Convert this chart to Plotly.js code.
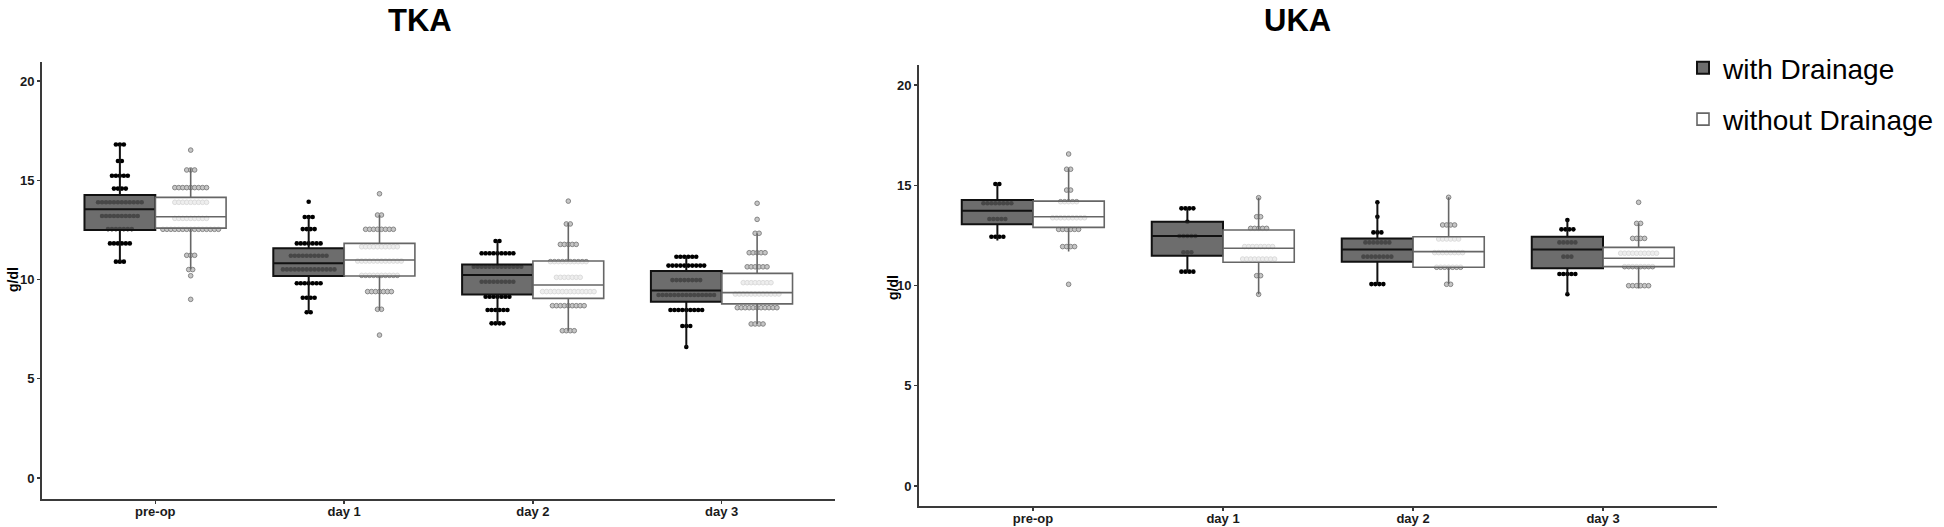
<!DOCTYPE html>
<html>
<head>
<meta charset="utf-8">
<script src="https://cdn.plot.ly/plotly-3.0.1.min.js"></script>
<style>html,body{margin:0;padding:0;background:#fff;}#chart{width:1944px;height:527px;}</style>
</head>
<body>
<div id="chart"></div>
<script>
// ---------- data ----------
const categories = ['pre-op', 'day 1', 'day 2', 'day 3'];
const yTicks = [0, 5, 10, 15, 20];

// TKA – with drainage (box statistics, g/dl)
const tkaWithQ1     = [12.49, 10.18, 9.25, 8.88];
const tkaWithMedian = [13.54, 10.82, 10.23, 9.44];
const tkaWithQ3     = [14.26, 11.57, 10.76, 10.43];
const tkaWithLow    = [10.9, 8.35, 7.79, 6.6];
const tkaWithHigh   = [16.8, 13.15, 11.94, 11.15];
// TKA – without drainage
const tkaWithoutQ1     = [12.59, 10.18, 9.05, 8.77];
const tkaWithoutMedian = [13.16, 10.98, 9.72, 9.34];
const tkaWithoutQ3     = [14.14, 11.82, 10.93, 10.31];
const tkaWithoutLow    = [10.5, 8.45, 7.42, 7.76];
const tkaWithoutHigh   = [15.6, 13.25, 12.85, 12.33];

// UKA – with drainage
const ukaWithQ1     = [13.05, 11.49, 11.19, 10.86];
const ukaWithMedian = [13.73, 12.47, 11.8, 11.8];
const ukaWithQ3     = [14.26, 13.18, 12.35, 12.43];
const ukaWithLow    = [12.25, 10.69, 10.07, 9.56];
const ukaWithHigh   = [15.06, 13.85, 14.15, 13.27];
// UKA – without drainage
const ukaWithoutQ1     = [12.9, 11.16, 10.91, 10.94];
const ukaWithoutMedian = [13.43, 11.86, 11.69, 11.36];
const ukaWithoutQ3     = [14.21, 12.77, 12.43, 11.9];
const ukaWithoutLow    = [11.7, 9.56, 10.06, 9.85];
const ukaWithoutHigh   = [15.85, 14.38, 14.4, 13.1];

// dot plot bins: values (g/dl) and number of patients per bin, per day
const tkaWithDotValues = [
  [16.8, 15.97, 15.23, 14.58, 13.89, 13.2, 12.54, 11.82, 10.9],
  [13.92, 13.15, 12.54, 11.82, 11.2, 10.51, 9.81, 9.08, 8.35],
  [11.94, 11.32, 10.64, 9.89, 9.13, 8.46, 7.79],
  [11.15, 10.7, 9.97, 9.22, 8.46, 7.66, 6.6]
];
const tkaWithDotCounts = [
  [3, 2, 5, 4, 12, 10, 7, 6, 3],
  [1, 3, 4, 7, 10, 14, 7, 4, 2],
  [2, 9, 13, 9, 7, 6, 4],
  [6, 10, 8, 15, 9, 3, 1]
];
const tkaWithoutDotValues = [
  [16.52, 15.52, 14.63, 13.89, 13.08, 12.53, 11.22, 10.5, 10.19, 9.0],
  [14.32, 13.25, 12.53, 11.65, 10.93, 10.21, 9.39, 8.5, 7.2],
  [13.95, 12.8, 11.77, 10.9, 10.11, 9.39, 8.68, 7.42],
  [13.84, 13.03, 12.33, 11.35, 10.64, 9.84, 9.27, 8.58, 7.76]
];
const tkaWithoutDotCounts = [
  [1, 3, 9, 9, 9, 15, 3, 2, 1, 1],
  [1, 2, 8, 10, 12, 10, 7, 2, 1],
  [1, 2, 5, 10, 7, 14, 9, 4],
  [1, 1, 2, 5, 6, 8, 12, 11, 4]
];
const ukaWithDotValues = [
  [15.06, 14.1, 13.32, 12.43],
  [13.85, 13.18, 12.47, 11.66, 10.69],
  [14.15, 13.43, 12.65, 12.15, 11.44, 10.07],
  [13.27, 12.8, 12.15, 11.44, 10.57, 9.56]
];
const ukaWithDotCounts = [
  [2, 8, 5, 4],
  [4, 1, 5, 3, 4],
  [1, 1, 3, 7, 8, 4],
  [1, 4, 5, 3, 5, 1]
];
const ukaWithoutDotValues = [
  [16.56, 15.8, 14.76, 14.18, 13.38, 12.8, 11.94, 10.06],
  [14.38, 13.43, 12.85, 11.94, 11.32, 10.49, 9.56],
  [14.4, 13.02, 12.32, 11.64, 10.91, 10.06],
  [14.15, 13.1, 12.35, 11.61, 10.94, 9.99]
];
const ukaWithoutDotCounts = [
  [1, 2, 2, 5, 9, 6, 4, 1],
  [1, 2, 5, 8, 9, 2, 1],
  [1, 4, 6, 8, 7, 2],
  [1, 2, 4, 10, 8, 6]
];

// ---------- styling ----------
const FONT = 'Liberation Sans, Arial, Helvetica, sans-serif';
const DODGE = 0.1875;
const BOX_W = 0.375;
const DOT_STEP = 0.021;
const WITH_STYLE = {fill: 'rgba(83,83,83,0.85)', line: '#111111', lw: 2,
                    dot: {color: '#000000', size: 4.6, line: {width: 0}}};
const WITHOUT_STYLE = {fill: 'rgba(255,255,255,0.7)', line: '#666666', lw: 1.6,
                       dot: {color: '#c6c6c6', size: 4.6, line: {color: '#858585', width: 1}}};

function dotTrace(vals, counts, offset, xa, ya, style) {
  const xs = [], ys = [];
  vals.forEach((dayVals, i) => {
    dayVals.forEach((v, k) => {
      const n = counts[i][k];
      for (let j = 0; j < n; j++) {
        xs.push(i + 1 + offset + (j - (n - 1) / 2) * DOT_STEP);
        ys.push(v);
      }
    });
  });
  return {type: 'scatter', mode: 'markers', x: xs, y: ys, xaxis: xa, yaxis: ya,
          marker: style.dot, showlegend: false, hoverinfo: 'y'};
}

function boxTrace(q1, med, q3, lo, hi, offset, xa, ya, style, name, showlegend, group) {
  return {type: 'box', name: name, legendgroup: group, showlegend: showlegend,
          x: categories.map((c, i) => i + 1 + offset),
          q1: q1, median: med, q3: q3, lowerfence: lo, upperfence: hi,
          width: BOX_W, whiskerwidth: 0, boxpoints: false,
          fillcolor: style.fill, line: {color: style.line, width: style.lw},
          xaxis: xa, yaxis: ya};
}

const data = [
  dotTrace(tkaWithDotValues, tkaWithDotCounts, -DODGE, 'x', 'y', WITH_STYLE),
  dotTrace(tkaWithoutDotValues, tkaWithoutDotCounts, DODGE, 'x', 'y', WITHOUT_STYLE),
  dotTrace(ukaWithDotValues, ukaWithDotCounts, -DODGE, 'x2', 'y2', WITH_STYLE),
  dotTrace(ukaWithoutDotValues, ukaWithoutDotCounts, DODGE, 'x2', 'y2', WITHOUT_STYLE),
  boxTrace(tkaWithQ1, tkaWithMedian, tkaWithQ3, tkaWithLow, tkaWithHigh, -DODGE, 'x3', 'y3', WITH_STYLE, 'with Drainage', true, 'a'),
  boxTrace(tkaWithoutQ1, tkaWithoutMedian, tkaWithoutQ3, tkaWithoutLow, tkaWithoutHigh, DODGE, 'x3', 'y3', WITHOUT_STYLE, 'without Drainage', true, 'b'),
  boxTrace(ukaWithQ1, ukaWithMedian, ukaWithQ3, ukaWithLow, ukaWithHigh, -DODGE, 'x4', 'y4', WITH_STYLE, 'with Drainage', false, 'a'),
  boxTrace(ukaWithoutQ1, ukaWithoutMedian, ukaWithoutQ3, ukaWithoutLow, ukaWithoutHigh, DODGE, 'x4', 'y4', WITHOUT_STYLE, 'without Drainage', false, 'b')
];

const W = 1944, H = 527;
const tickFont = {family: FONT, size: 13, color: '#1a1a1a', weight: 'bold'};
function xAxis(domain, anchor) {
  return {domain: domain, anchor: anchor, range: [0.4, 4.6], tickvals: [1, 2, 3, 4], ticktext: categories,
          showline: true, linecolor: '#3a3a3a', linewidth: 2, ticks: 'outside', ticklen: 3,
          tickcolor: '#3a3a3a', tickwidth: 1.5, showgrid: false, zeroline: false, tickfont: tickFont,
          ticklabelstandoff: -4, fixedrange: true};
}
function yAxis(domain, anchor, range) {
  return {domain: domain, anchor: anchor, range: range, tickvals: yTicks,
          showline: true, linecolor: '#3a3a3a', linewidth: 2, ticks: 'outside', ticklen: 3,
          tickcolor: '#3a3a3a', tickwidth: 1.5, showgrid: false, zeroline: false, tickfont: tickFont,
          fixedrange: true};
}
const leftX = [42 / W, 835 / W], rightX = [919 / W, 1717 / W];
const leftY = [(H - 499) / H, (H - 62) / H], rightY = [(H - 506) / H, (H - 65) / H];
const leftRange = [-1.06, 20.96], rightRange = [-1.0, 21.0];

const layout = {
  width: W, height: H, autosize: false,
  margin: {l: 0, r: 0, t: 0, b: 0, pad: 0},
  paper_bgcolor: '#ffffff', plot_bgcolor: 'rgba(0,0,0,0)',
  font: {family: FONT, color: '#000'},
  boxmode: 'overlay',
  xaxis: xAxis(leftX, 'y'),
  yaxis: yAxis(leftY, 'x', leftRange),
  xaxis2: xAxis(rightX, 'y2'),
  yaxis2: yAxis(rightY, 'x2', rightRange),
  xaxis3: {overlaying: 'x', anchor: 'y3', range: [0.4, 4.6], visible: false, fixedrange: true},
  yaxis3: {overlaying: 'y', anchor: 'x3', range: leftRange, visible: false, fixedrange: true},
  xaxis4: {overlaying: 'x2', anchor: 'y4', range: [0.4, 4.6], visible: false, fixedrange: true},
  yaxis4: {overlaying: 'y2', anchor: 'x4', range: rightRange, visible: false, fixedrange: true},
  showlegend: true,
  legend: {x: 1683 / W, xanchor: 'left', y: (H - 43) / H, yanchor: 'top',
           font: {family: FONT, size: 28, color: '#000'}, bgcolor: 'rgba(0,0,0,0)',
           tracegroupgap: 12, borderwidth: 0},
  annotations: [
    {text: 'TKA', xref: 'paper', yref: 'paper', x: 419.5 / W, y: (H - 1) / H,
     xanchor: 'center', yanchor: 'top', showarrow: false,
     font: {family: FONT, size: 31, weight: 'bold', color: '#000'}},
    {text: 'UKA', xref: 'paper', yref: 'paper', x: 1297 / W, y: (H - 1) / H,
     xanchor: 'center', yanchor: 'top', showarrow: false,
     font: {family: FONT, size: 31, weight: 'bold', color: '#000'}},
    {text: 'g/dl', xref: 'paper', yref: 'paper', x: 13 / W, y: (H - 280) / H, textangle: -90,
     xanchor: 'center', yanchor: 'middle', showarrow: false,
     font: {family: FONT, size: 14, weight: 'bold', color: '#000'}},
    {text: 'g/dl', xref: 'paper', yref: 'paper', x: 893 / W, y: (H - 288) / H, textangle: -90,
     xanchor: 'center', yanchor: 'middle', showarrow: false,
     font: {family: FONT, size: 14, weight: 'bold', color: '#000'}}
  ]
};

Plotly.newPlot('chart', data, layout, {staticPlot: true, displayModeBar: false});
</script>
</body>
</html>
